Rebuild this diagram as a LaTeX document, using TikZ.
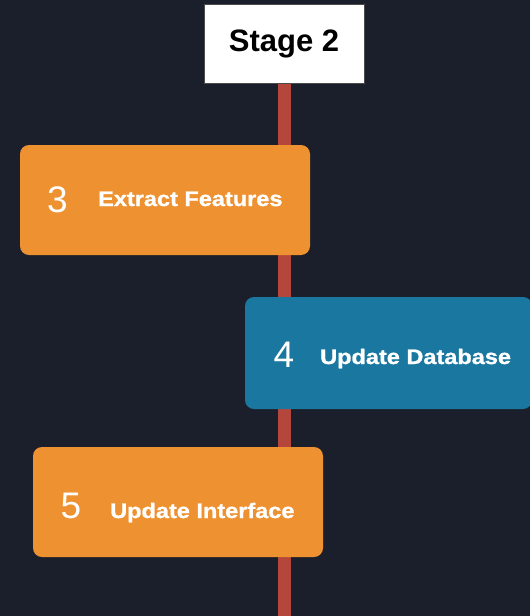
\documentclass[tikz,border=0pt]{standalone}
\usepackage{fontspec}
\setmainfont{Liberation Sans}
\newfontfamily\widefont[FakeStretch=1.12, FakeBold=1.2]{Liberation Sans}
\definecolor{night}{HTML}{1B1F2B}
\definecolor{tangerine}{HTML}{EE9130}
\definecolor{ocean}{HTML}{1A77A0}
\definecolor{brick}{HTML}{B5463C}
\begin{document}
\begin{tikzpicture}[x=1pt, y=-1pt,
    stepcard/.style={rounded corners=9pt, inner sep=0pt, minimum width=290pt, minimum height=110pt},
    stepnum/.style={text=white, anchor=base, inner sep=0pt, font=\fontsize{37}{37}\selectfont},
    steplabel/.style={text=white, anchor=base west, inner sep=0pt, font=\widefont\bfseries\fontsize{21}{21}\selectfont}]
      \fill[night] (0,0) rectangle (530,616);
      \useasboundingbox (0,0) rectangle (530,616);
      % title and spine
      \node[fill=white, draw=black!70, line width=0.8pt, minimum width=160pt, minimum height=79pt,
            font=\bfseries\fontsize{31}{31}\selectfont] (stage) at (284,44) {Stage 2};
      \coordinate (tail) at (284,616);
      \draw[brick, line width=13pt] (stage.south) -- (tail);
      % steps
      \node[stepcard, fill=tangerine] (extract) at (165,200) {};
      \node[stepnum] (n3) at (57.5,212) {3};
      \node[steplabel] (t3) at (98,206) {Extract Features};
      \node[stepcard, fill=ocean, minimum width=287pt, minimum height=112pt] (database) at (388.5,353) {};
      \node[stepnum] (n4) at (284,367) {4};
      \node[steplabel] (t4) at (320,364) {Update Database};
      \node[stepcard, fill=tangerine] (interface) at (178,502) {};
      \node[stepnum] (n5) at (71,518) {5};
      \node[steplabel] (t5) at (110,518) {Update Interface};
\end{tikzpicture}
\end{document}
